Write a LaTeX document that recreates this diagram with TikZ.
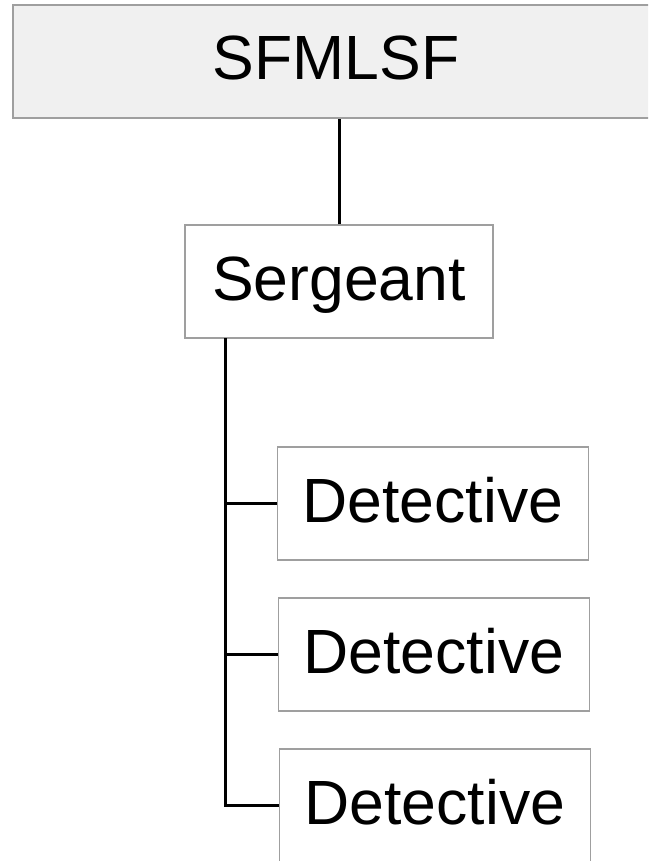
\documentclass[tikz,border=0pt]{standalone}
\usepackage{fontspec}
\setmainfont{Liberation Sans}
\usepackage{tikz}
\usetikzlibrary{positioning}
\tikzset{
  rankbox/.style={rectangle, draw=gray!75, line width=1.5pt, minimum height=113pt,
    font=\fontsize{62.5}{70}\selectfont, text height=45pt, text depth=8pt, inner sep=0pt},
  chain/.style={draw=black, line width=3pt}
}
\newcommand{\rankbox}[4] {\node at (#1) (#2) [rankbox, minimum width=#3] {#4};}
\newcommand{\rankbranch}[2] {\draw [chain] (#1 |- #2.west) -- (#2.west);}

\begin{document}
\begin{tikzpicture}[x=1pt, y=-1pt]
\useasboundingbox (0,0) rectangle (648,861);
\begin{scope}
\clip (0,0) rectangle (648,861);
\node at (336,61.5) (unit) [rankbox, fill=gray!12, minimum width=646pt] {SFMLSF};
\rankbox {339,281.5} {sgt} {308pt} {Sergeant};
\rankbox {433,503.5} {det1} {311pt} {Detective};
\rankbox {434,654.5} {det2} {311pt} {Detective};
\rankbox {435,805.5} {det3} {311pt} {Detective};

\coordinate (trunk) at (225,338);
\draw [chain] (sgt.north) -- (sgt.north |- unit.south);
\draw [chain] (trunk) |- (det3.west);
\rankbranch {trunk} {det1};
\rankbranch {trunk} {det2};
\end{scope}
\end{tikzpicture}
\end{document}
